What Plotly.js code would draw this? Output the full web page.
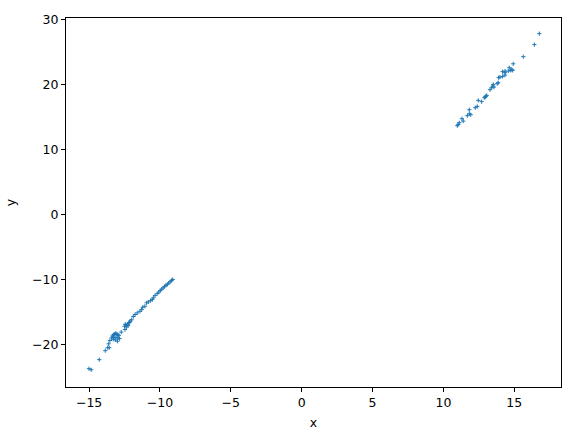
<!DOCTYPE html>
<html>
<head>
<meta charset="utf-8">
<script src="https://cdn.plot.ly/plotly-3.0.1.min.js"></script>
<style>html,body{margin:0;padding:0;background:#fff;}#chart{width:584px;height:432px;}</style>
</head>
<body>
<div id="chart"></div>
<script>
// Lower cluster
var lowerX = [-15.01,-14.85,-14.28,-13.86,-13.69,-13.58,-13.62,-13.53,-13.41,-13.35,-13.28,-13.2,-13.12,-13.05,-12.98,-12.9,-13.3,-13.15,-13.0,-12.85,-13.1,-12.95,-13.25,-12.73,-12.47,-12.5,-12.4,-12.3,-12.2,-12.35,-12.25,-12.15,-12.45,-12.1,-12.0,-11.88,-11.76,-11.6,-11.41,-11.29,-11.22,-11.06,-10.94,-10.82,-10.66,-10.54,-10.47,-10.35,-10.19,-10.08,-9.98,-9.88,-9.78,-9.68,-9.58,-9.48,-9.38,-9.28,-9.18,-9.1];
var lowerY = [-23.73,-23.9,-22.34,-20.96,-20.5,-20.5,-19.9,-19.4,-19.0,-18.7,-18.5,-18.4,-18.3,-18.4,-18.5,-18.6,-19.2,-19.3,-19.5,-19.1,-18.9,-19.0,-18.9,-18.1,-17.7,-17.2,-17.0,-16.9,-16.7,-17.3,-17.1,-16.6,-16.9,-16.4,-16.2,-15.7,-15.4,-15.15,-14.9,-14.64,-14.28,-14.12,-13.6,-13.45,-13.25,-13.1,-12.84,-12.48,-12.17,-11.95,-11.7,-11.5,-11.3,-11.1,-10.9,-10.75,-10.55,-10.35,-10.15,-10.0];
// Upper cluster
var upperX = [16.77,16.42,15.64,14.93,14.65,14.82,14.89,14.75,14.58,14.35,14.18,14.35,14.35,14.18,13.99,13.9,13.87,13.8,13.52,13.48,13.57,13.41,13.29,13.06,12.99,12.89,12.94,12.7,12.46,12.39,12.25,11.83,11.83,11.93,11.69,11.31,11.4,11.12,11.05,10.98];
var upperY = [27.84,26.15,24.3,23.2,22.6,22.34,22.19,22.19,22.08,22.08,21.99,21.83,21.46,21.26,21.16,21.06,20.29,20.14,20.03,19.77,19.62,19.52,19.21,18.34,18.18,17.98,18.07,17.37,17.57,16.64,16.44,16.13,15.52,15.36,15.21,14.75,14.38,14.13,13.87,13.67];

var xs = lowerX.concat(upperX);
var ys = lowerY.concat(upperY);

var trace = {
  x: xs, y: ys, type: 'scatter', mode: 'markers',
  marker: {symbol: 'cross-thin', size: 3, color: '#1f77b4', line: {color: '#1f77b4', width: 1}},
  hoverinfo: 'none'
};

var axisCommon = {
  showgrid: false, zeroline: false, showline: true, linecolor: '#000', linewidth: 1, mirror: true,
  ticks: 'outside', ticklen: 4, tickwidth: 1, tickcolor: '#000',
  tickfont: {family: 'DejaVu Sans', size: 12.5, color: '#000'}
};

var layout = {
  width: 584, height: 432,
  margin: {l: 66, r: 23, t: 18, b: 45, pad: 0},
  paper_bgcolor: '#fff', plot_bgcolor: '#fff',
  showlegend: false,
  xaxis: Object.assign({}, axisCommon, {
    range: [-16.63, 18.3], tickvals: [-15,-10,-5,0,5,10,15],
    title: {text: 'x', font: {family: 'DejaVu Sans', size: 12.5, color: '#000'}, standoff: 9}
  }),
  yaxis: Object.assign({}, axisCommon, {
    range: [-26.55, 30.25], tickvals: [-20,-10,0,10,20,30],
    title: {text: 'y', font: {family: 'DejaVu Sans', size: 12.5, color: '#000'}, standoff: 13}
  })
};

Plotly.newPlot('chart', [trace], layout, {staticPlot: true});
</script>
</body>
</html>
